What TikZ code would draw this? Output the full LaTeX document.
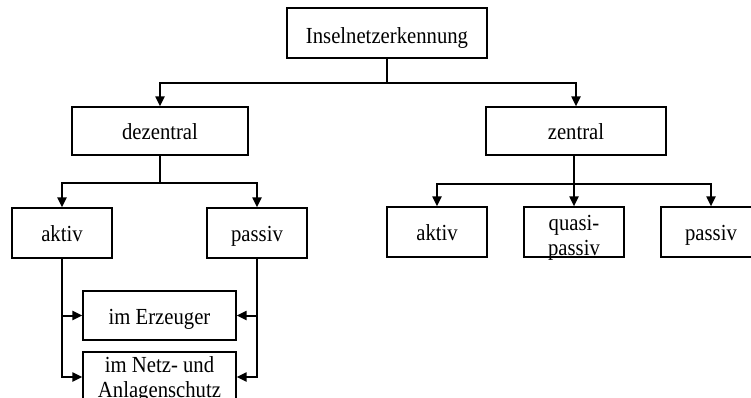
\documentclass[tikz,border=0pt]{standalone}
\usepackage{fontspec}
\setmainfont[FakeStretch=0.9]{Liberation Serif}
\usetikzlibrary{arrows.meta}
\begin{document}
\begin{tikzpicture}[x=1pt,y=-1pt,
  box/.style={draw,line width=1.2pt,minimum height=50pt,inner sep=0pt,
    font=\fontsize{23}{25}\selectfont,align=center,text height=17pt,text depth=0pt},
  boxonly/.style={draw,line width=1.2pt,minimum height=50pt,inner sep=0pt},
  boxtext/.style={inner sep=0pt,font=\fontsize{23}{25}\selectfont,align=center},
  conn/.style={line width=2pt,-{Triangle[length=10pt,width=9pt]}},
  plain/.style={line width=2pt}]
\useasboundingbox (0,0) rectangle (751,398);
\clip (0,0) rectangle (751,398);
% boxes
\node[box,minimum width=200pt,text height=21pt] (top) at (387,33) {Inselnetzerkennung};
\node[box,minimum width=176pt,minimum height=48pt] (dez) at (160,131) {dezentral};
\node[box,minimum width=180pt,minimum height=48pt] (zen) at (576,131) {zentral};
\node[box,minimum width=100pt] (aL) at (62,233) {aktiv};
\node[box,minimum width=100pt] (pL) at (257,233) {passiv};
\node[box,minimum width=153pt,minimum height=49pt] (erz) at (159.5,315.5) {im Erzeuger};
\node[boxonly,minimum width=153pt] (netz) at (159.5,377) {};
\node[boxtext] (netzt) at (159.5,379) {im Netz- und\\Anlagenschutz};
\node[box,minimum width=100pt] (aR) at (437,232) {aktiv};
\node[boxonly,minimum width=100pt] (qR) at (574,232) {};
\node[boxtext] (qRt) at (574,238) {quasi-\\passiv};
\node[box,minimum width=100pt] (pR) at (711,232) {passiv};
% connectors
\draw[plain] (top.south) -- ++(0,24) coordinate (j1);
\draw[conn] (j1) -| (dez.north);
\draw[conn] (j1) -| (zen.north);
\draw[plain] (dez.south) -- ++(0,27) coordinate (j2);
\draw[conn] (j2) -| (aL.north);
\draw[conn] (j2) -| (pL.north);
\draw[plain] (zen.south -| qR.north) -- ++(0,28) coordinate (j3);
\draw[conn] (zen.south -| qR.north) -- (qR.north);
\draw[conn] (j3) -| (aR.north);
\draw[conn] (j3) -| (pR.north);
\draw[conn] (aL.south) |- (erz.west);
\draw[conn] (aL.south) |- (netz.west);
\draw[conn] (pL.south) |- (erz.east);
\draw[conn] (pL.south) |- (netz.east);
\end{tikzpicture}
\end{document}
